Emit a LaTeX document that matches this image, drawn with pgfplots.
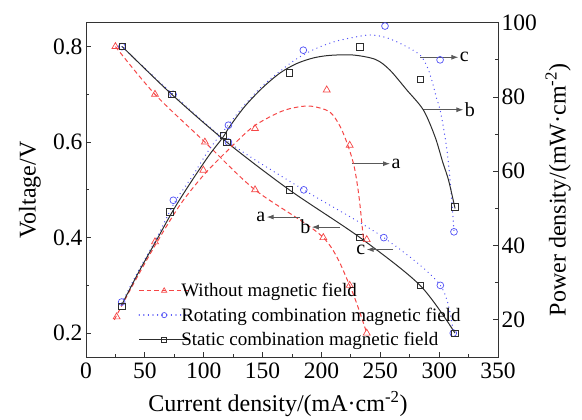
\documentclass[border=0pt]{standalone}
\usepackage{pgfplots}
\pgfplotsset{compat=1.18}
\usepackage{fontspec}
\setmainfont{Liberation Serif}
\usetikzlibrary{arrows.meta}
\definecolor{cred}{RGB}{245,70,70}
\definecolor{cblue}{RGB}{80,80,245}
\definecolor{cblack}{RGB}{45,45,45}
\tikzset{
  arr/.style={draw=black!65, line width=0.9pt, -{Latex[length=7pt,width=5pt]}},
  lab/.style={font=\fontsize{20}{22}\selectfont, inner sep=1pt},
}
\begin{document}
\begin{tikzpicture}
\useasboundingbox (-86pt,-63pt) rectangle (496pt,357pt);
\pgfplotsset{
  every axis/.append style={
    scale only axis, width=412pt, height=334.3pt, xmin=0, xmax=350,
    axis line style={line width=0.9pt, draw=black!80},
    every tick/.style={line width=0.8pt, black!80},
    major tick length=5pt, minor tick length=3pt,
    tick label style={font=\fontsize{23.5}{26}\selectfont},
    label style={font=\fontsize{24}{28}\selectfont},
    /pgf/number format/assume math mode=true,
    legend cell align=left,
  },
}
\begin{axis}[
  ymin=0.15, ymax=0.85,
  xtick={0,50,...,350}, ytick={0.2,0.4,0.6,0.8},
  minor x tick num=1, minor y tick num=1,
  xtick pos=left, ytick pos=left,
  yticklabel style={/pgf/number format/fixed, /pgf/number format/fixed zerofill, /pgf/number format/precision=1},
  xticklabel style={yshift=-2pt},
  xlabel={Current density/(mA·cm\textsuperscript{-2})},
  ylabel={Voltage/V},
  xlabel style={at={(axis description cs:0.466,-0.1645)}, anchor=base},
  ylabel style={at={(axis description cs:-0.136,0.5)}, anchor=center},
  clip=false,
]
% voltage curves
\addplot[cred, line width=1pt, dash pattern=on 4.5pt off 3pt, smooth] coordinates {(25,0.80) (58.6,0.70) (101,0.60) (143.6,0.50) (201.6,0.40) (224,0.30) (238.5,0.20)};
\addplot[cblue, line width=1.3pt, dash pattern=on 0.1pt off 4.5pt, line cap=round, smooth] coordinates {(30.5,0.80) (74,0.70) (121,0.60) (185,0.50) (253,0.40) (301,0.30) (312,0.20)};
\addplot[cblack, line width=1pt, smooth] coordinates {(30.8,0.80) (72.8,0.70) (119.5,0.60) (172.7,0.50) (232.8,0.40) (283.8,0.30) (313.5,0.20)};
\addplot[cred, only marks, mark=triangle, mark size=4pt, mark options={solid, line width=0.7pt}] coordinates {(25,0.80) (58.6,0.70) (101,0.60) (143.6,0.50) (201.6,0.40) (224,0.30) (238.5,0.20)};
\addplot[cblue, only marks, mark=o, mark size=3.4pt, mark options={solid, line width=0.7pt}] coordinates {(30.5,0.80) (74,0.70) (121,0.60) (185,0.50) (253,0.40) (301,0.30) (312,0.20)};
\addplot[cblack, only marks, mark=square, mark size=3.2pt, mark options={solid, line width=0.7pt}] coordinates {(30.8,0.80) (72.8,0.70) (119.5,0.60) (172.7,0.50) (232.8,0.40) (283.8,0.30) (313.5,0.20)};
% annotations
\draw[arr] (axis cs:225.8,0.5548) -- (axis cs:258.3,0.5548) node[lab, anchor=west] {a};
\draw[arr] (axis cs:286.6,0.6677) -- (axis cs:320.6,0.6677) node[lab, anchor=west] {b};
\draw[arr] (axis cs:283.8,0.7776) -- (axis cs:316.3,0.7776) node[lab, anchor=west] {c};
\draw[arr] (axis cs:181.8,0.443) -- (axis cs:153.5,0.443) node[lab, anchor=east] {a};
\draw[arr] (axis cs:215.8,0.422) -- (axis cs:191.8,0.422) node[lab, anchor=east] {b};
\draw[arr] (axis cs:261,0.375) -- (axis cs:238.4,0.375) node[lab, anchor=east] {c};
\end{axis}
\begin{axis}[
  ymin=10, ymax=100,
  hide x axis,
  ytick={20,40,60,80,100}, minor y tick num=1,
  ytick pos=right, yticklabel pos=right,
  ylabel={Power density/(mW·cm\textsuperscript{-2})},
  ylabel style={at={(axis description cs:1.146,0.5)}, anchor=center},
  legend image code/.code={\draw[mark repeat=2,mark phase=2,#1] plot coordinates {(0pt,0pt) (25pt,0pt) (50pt,0pt)};},
  legend style={draw=none, fill=none, at={(axis description cs:0.127,0.025)}, anchor=south west, font=\fontsize{19}{20}\selectfont, row sep=6.5pt, column sep=-10pt, inner sep=0pt, nodes={inner sep=1.5pt}},
  clip=false,
]
\addlegendimage{cred, line width=1pt, dash pattern=on 4.5pt off 3pt, mark=triangle, mark size=3pt, mark options={solid, line width=0.7pt}}
\addlegendentry{Without magnetic field}
\addlegendimage{cblue, line width=1.3pt, dash pattern=on 0.1pt off 4.5pt, line cap=round, mark=o, mark size=2.6pt, mark options={solid, line width=0.7pt}}
\addlegendentry{Rotating combination magnetic field}
\addlegendimage{cblack, line width=1pt, mark=square, mark size=2.4pt, mark options={solid, line width=0.7pt}}
\addlegendentry{Static combination magnetic field}
% power curves
\addplot[forget plot, cred, line width=1pt, dash pattern=on 4.5pt off 3pt, smooth] coordinates {(24,20) (40,29.5) (58.6,40) (80,51) (100,59) (120,65.5) (142,72) (165,76) (180,77.3) (192,77.5) (207,76) (216,72) (223,66.5) (228,61) (232,53) (235.6,42)};
\addplot[forget plot, cblue, line width=1.3pt, dash pattern=on 0.1pt off 4.5pt, line cap=round, smooth] coordinates {(30.3,24.5) (45,33.5) (60,42) (75,51.5) (90,58.5) (105,66) (121,72.5) (135,78) (150,83) (165,87) (180,90.5) (195,93) (210,94.8) (225,95.9) (241,96.7) (255,96) (269.6,94) (283.8,91.3) (290,88) (293.7,84.6) (297.5,80) (300.8,76.5) (305,69.3) (308,62) (310.5,53) (312.6,44)};
\addplot[forget plot, cblack, line width=1pt, smooth] coordinates {(30.3,24) (45,33) (60,41.5) (75,50) (90,57.5) (105,64.5) (116,69) (122,72) (135,77.5) (150,82.5) (165,86.5) (179,89) (193,90.5) (207,91.2) (227,91.3) (246,90.1) (258,87.3) (272.5,81.9) (286.6,76.5) (296.5,69.3) (303,62.5) (308,57.6) (313.5,50)};
\addplot[forget plot, cred, only marks, mark=triangle, mark size=4pt, mark options={solid, line width=0.7pt}] coordinates {(26,20.8) (58.6,41) (99.7,60.3) (143.6,71.5) (204.5,81.9) (224,67) (238.5,41.6)};
\addplot[forget plot, cblue, only marks, mark=o, mark size=3.4pt, mark options={solid, line width=0.7pt}] coordinates {(30.3,24.8) (74.2,52.2) (121,72.4) (184.6,92.6) (254,99.1) (300.8,90) (312.6,43.7)};
\addplot[forget plot, cblack, only marks, mark=square, mark size=3.2pt, mark options={solid, line width=0.7pt}] coordinates {(30.3,23.6) (71.4,49.1) (116.7,69.7) (172.8,86.5) (232.8,93.5) (283.8,84.8) (313.5,50.4)};
\end{axis}
\end{tikzpicture}
\end{document}
